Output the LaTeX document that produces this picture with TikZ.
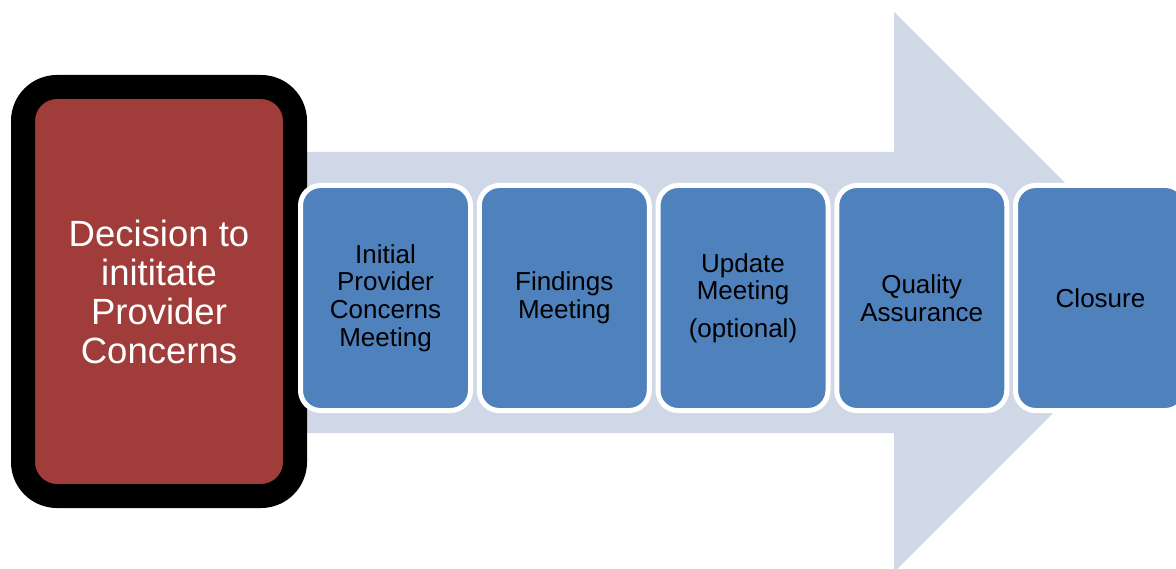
\documentclass[tikz,border=0pt]{standalone}
\usepackage{fontspec}
\setmainfont{Liberation Sans}
\usetikzlibrary{positioning}
\definecolor{arrowblue}{HTML}{D0D8E8}
\definecolor{stepblue}{HTML}{4F81BD}
\definecolor{decisionred}{HTML}{A03D3A}
\tikzset{
  startbox/.style = {rectangle, draw=black, line width=24pt, fill=decisionred, rounded corners=34pt,
    minimum width=272pt, minimum height=409pt, align=center, text=white,
    font=\fontsize{36.5}{39}\selectfont},
  stepbox/.style = {rectangle, draw=white, line width=5pt, fill=stepblue, rounded corners=20pt,
    minimum width=170pt, minimum height=225pt, align=center, text=black, inner sep=0pt,
    font=\fontsize{26}{27.7}\selectfont},
}

\begin{document}
\begin{tikzpicture}[x=1pt, y=-1pt, node distance=3.75pt]
\useasboundingbox (0,0) rectangle (1176,569);
% big background arrow
\fill[arrowblue] (300,152) -- (894,152) -- (894,12) -- (1174,292)
  -- (894,572) -- (894,433) -- (300,433) -- cycle;
\node [startbox] (decision) at (159,291.5) {Decision to\\inititate\\Provider\\Concerns};
\node [stepbox] (initial) at (385.5,298) {Initial\\Provider\\Concerns\\Meeting};
\node [stepbox, right=of initial] (findings) {Findings\\Meeting};
\node [stepbox, right=of findings] (update) {Update\\Meeting\\[10pt](optional)};
\node [stepbox, right=of update] (quality) {Quality\\Assurance};
\node [stepbox, right=of quality] (closure) {Closure};
\end{tikzpicture}
\end{document}
